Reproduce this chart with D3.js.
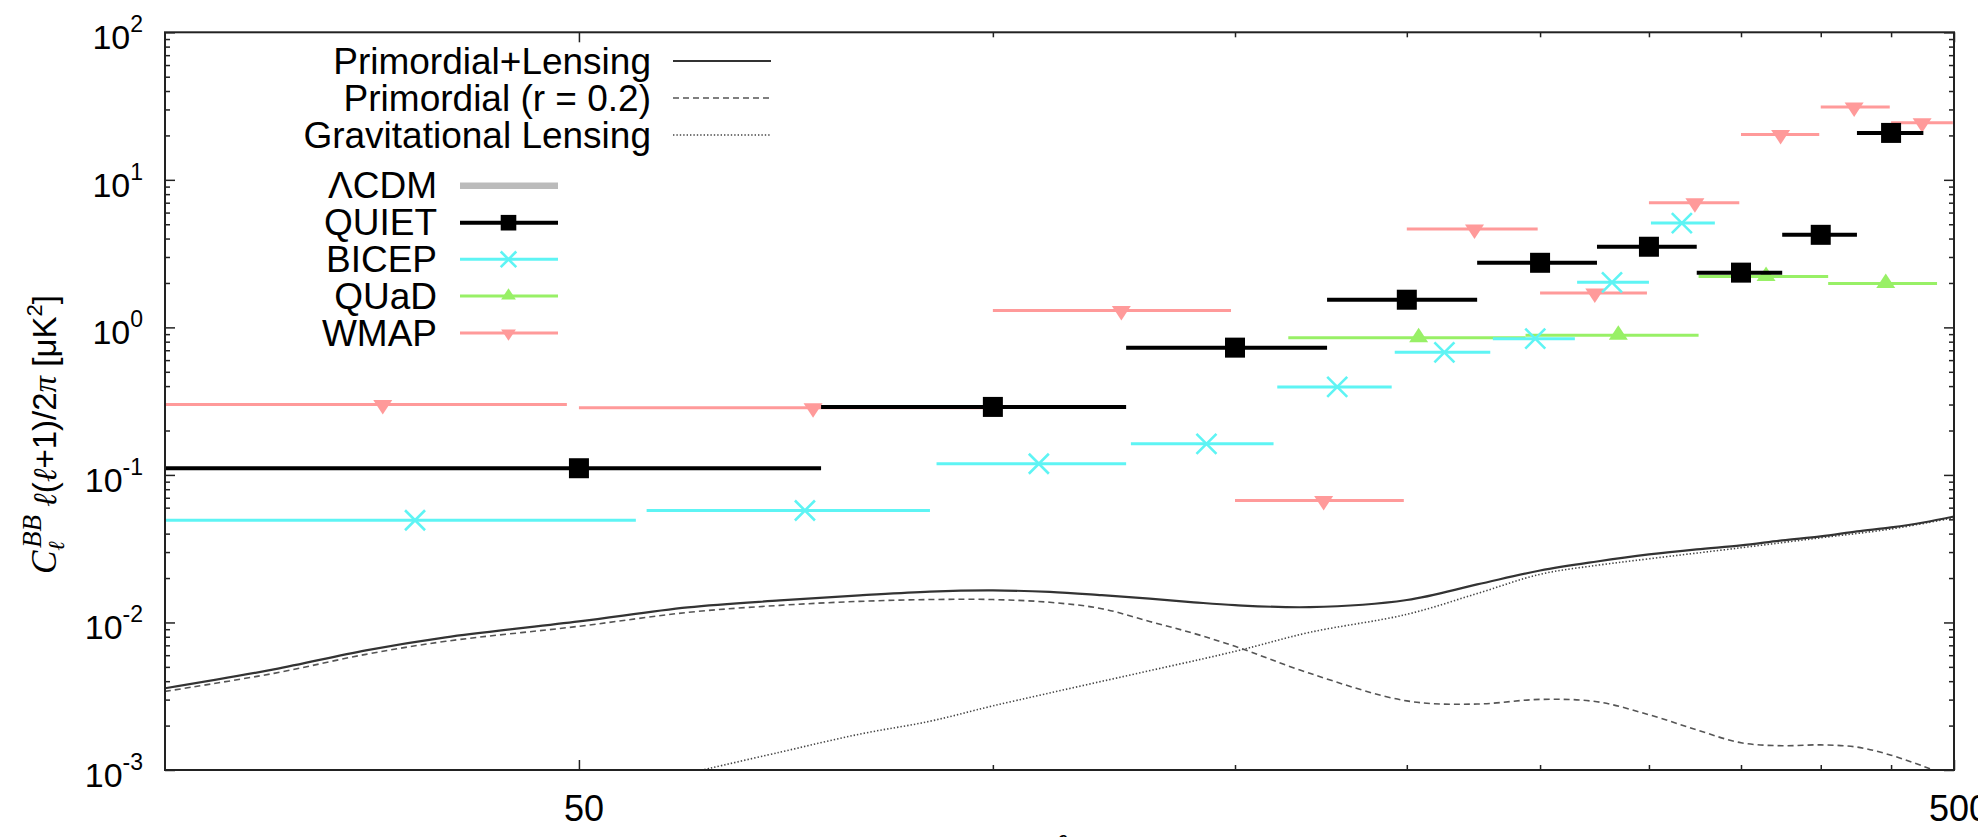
<!DOCTYPE html>
<html><head><meta charset="utf-8">
<script src="https://cdn.jsdelivr.net/npm/d3@7"></script>
<style>
html,body{margin:0;padding:0;background:#fff;overflow:hidden}
text{font-family:"Liberation Sans",Arial,Helvetica,sans-serif;fill:#000}
.serif{font-family:"Liberation Serif","DejaVu Serif",serif;font-style:italic}
</style></head><body>
<svg id="chart" width="1978" height="837"></svg>
<script>
// ---------- data ----------
const xDomain = [25, 500];
const yDomain = [1e-3, 1e2];
const xMajorTicks = [50, 500];
const xTickLabels = ["50", "500"];
const xMinorTicks = [100, 150, 200, 250, 300, 350, 400, 450];
const yMajorTicks = [1e-3, 1e-2, 1e-1, 1, 10, 100];
const yTickExponents = ["-3", "-2", "-1", "0", "1", "2"];
const yMinorMultipliers = [2, 3, 4, 5, 6, 7, 8, 9];

const theoryEll = [25,30,35,40,50,60,70,80,90,100,110,120,130,140,150,170,200,225,250,275,300,325,350,375,400,425,450,475,500];
const primLensVals = [3.58e-3,4.81e-3,6.47e-3,7.93e-3,1.016e-2,1.265e-2,1.41e-2,1.525e-2,1.62e-2,1.65e-2,1.61e-2,1.53e-2,1.45e-2,1.37e-2,1.31e-2,1.27e-2,1.42e-2,1.81e-2,2.25e-2,2.59e-2,2.89e-2,3.13e-2,3.33e-2,3.60e-2,3.83e-2,4.14e-2,4.41e-2,4.76e-2,5.23e-2];
const primordialVals = [3.41e-3,4.52e-3,6.08e-3,7.45e-3,9.42e-3,1.17e-2,1.306e-2,1.39e-2,1.43e-2,1.43e-2,1.37e-2,1.24e-2,1.016e-2,8.43e-3,6.89e-3,4.52e-3,2.94e-3,2.80e-3,3.01e-3,2.90e-3,2.37e-3,1.87e-3,1.53e-3,1.46e-3,1.48e-3,1.43e-3,1.26e-3,1.06e-3,8.9e-4];
const lensEll = [60,70,80,90,100,120,150,170,200,225,250,275,300,350,400,450,500];
const lensVals = [9.5e-4,1.32e-3,1.75e-3,2.14e-3,2.72e-3,3.99e-3,6.37e-3,8.57e-3,1.135e-2,1.57e-2,2.12e-2,2.44e-2,2.70e-2,3.21e-2,3.75e-2,4.30e-2,5.13e-2];

const quietEll = [50,100,150,200,250,300,350,400,450];
const quietVal = [0.111,0.289,0.729,1.54,2.74,3.52,2.35,4.24,20.8];
const quietLo  = [25,75,125,175,225,275,325,375,425];
const quietHi  = [75,125,175,225,275,325,375,425,475];

const bicepEll = [38,73,108,143,178,213,248,282,317];
const bicepVal = [0.0493,0.0574,0.119,0.1625,0.395,0.677,0.839,2.02,5.09];
const bicepLo  = [21,56,91,126,161,196,231,266,301];
const bicepHi  = [55,90,125,160,195,230,265,300,335];

const quadEll = [204,285,365,446];
const quadVal = [0.851,0.883,2.21,1.98];
const quadLo  = [164,244,326,405];
const quadHi  = [244,326,405,486];

const wmapEll = [36,74,124,174,224,274,324,374,423,474];
const wmapVal = [0.300,0.285,1.30,0.0671,4.64,1.71,6.99,20.3,31.2,24.4];
const wmapLo  = [24,50,100,150,200,250,300,350,400,450];
const wmapHi  = [49,99,149,199,249,299,349,399,449,499];

const curveLegend = ["Primordial+Lensing", "Primordial (r = 0.2)", "Gravitational Lensing"];
const dataLegend = ["\u039BCDM", "QUIET", "BICEP", "QUaD", "WMAP"];

// ---------- layout ----------
const P = {left:165, right:1954, top:32.3, bottom:770};
const svg = d3.select("#chart");
const x = d3.scaleLog().domain(xDomain).range([P.left, P.right]);
const y = d3.scaleLog().domain(yDomain).range([P.bottom, P.top]);
const axisColor = "#222";

svg.append("defs").append("clipPath").attr("id","clip")
  .append("rect").attr("x",P.left).attr("y",P.top)
  .attr("width",P.right-P.left).attr("height",P.bottom-P.top);

// ---------- axes ----------
function styleAxis(g){
  g.select(".domain").remove();
  g.selectAll(".tick line").attr("stroke",axisColor).attr("stroke-width",1.5);
}
const gxb = svg.append("g").attr("transform",`translate(0,${P.bottom})`)
  .call(d3.axisBottom(x).tickValues(xMajorTicks).tickSizeInner(-10).tickSizeOuter(0).tickPadding(25)
    .tickFormat((d,i)=>xTickLabels[i]));
styleAxis(gxb);
gxb.selectAll(".tick text").attr("font-size",36).attr("dx",4.5)
  .style("font-family",'"Liberation Sans",Arial,sans-serif').attr("fill","#000");
svg.append("g").attr("transform",`translate(0,${P.bottom})`)
  .call(d3.axisBottom(x).tickValues(xMinorTicks).tickSizeInner(-5).tickSizeOuter(0).tickFormat(""))
  .call(styleAxis);
svg.append("g").attr("transform",`translate(0,${P.top})`)
  .call(d3.axisTop(x).tickValues(xMajorTicks).tickSizeInner(-10).tickSizeOuter(0).tickFormat(""))
  .call(styleAxis);
svg.append("g").attr("transform",`translate(0,${P.top})`)
  .call(d3.axisTop(x).tickValues(xMinorTicks).tickSizeInner(-5).tickSizeOuter(0).tickFormat(""))
  .call(styleAxis);

const yMinorTicks = [];
yMajorTicks.slice(0,-1).forEach(d => yMinorMultipliers.forEach(m => yMinorTicks.push(d*m)));

const gyl = svg.append("g").attr("transform",`translate(${P.left},0)`)
  .call(d3.axisLeft(y).tickValues(yMajorTicks).tickSizeInner(-10).tickSizeOuter(0).tickPadding(22).tickFormat(""));
styleAxis(gyl);
gyl.selectAll(".tick text").each(function(d,i){
  const t = d3.select(this).attr("dy",null).attr("y",16.5).attr("font-size",34)
     .style("font-family",'"Liberation Sans",Arial,sans-serif').attr("fill","#000");
  t.append("tspan").text("10");
  t.append("tspan").attr("dy",-17).attr("font-size",23).text(yTickExponents[i]);
});
svg.append("g").attr("transform",`translate(${P.left},0)`)
  .call(d3.axisLeft(y).tickValues(yMinorTicks).tickSizeInner(-5).tickSizeOuter(0).tickFormat(""))
  .call(styleAxis);
svg.append("g").attr("transform",`translate(${P.right},0)`)
  .call(d3.axisRight(y).tickValues(yMajorTicks).tickSizeInner(-10).tickSizeOuter(0).tickFormat(""))
  .call(styleAxis);
svg.append("g").attr("transform",`translate(${P.right},0)`)
  .call(d3.axisRight(y).tickValues(yMinorTicks).tickSizeInner(-5).tickSizeOuter(0).tickFormat(""))
  .call(styleAxis);

// ---------- theory curves ----------
const line = d3.line().x(d=>x(d[0])).y(d=>y(d[1])).curve(d3.curveCatmullRom.alpha(0.5));
const plotG = svg.append("g").attr("clip-path","url(#clip)");
plotG.append("path").datum(d3.zip(lensEll, lensVals)).attr("d",line)
  .attr("fill","none").attr("stroke","#444").attr("stroke-width",1.6).attr("stroke-dasharray","1.4,2");
plotG.append("path").datum(d3.zip(theoryEll, primordialVals)).attr("d",line)
  .attr("fill","none").attr("stroke","#555").attr("stroke-width",1.6).attr("stroke-dasharray","6,4");
plotG.append("path").datum(d3.zip(theoryEll, primLensVals)).attr("d",line)
  .attr("fill","none").attr("stroke","#333").attr("stroke-width",2.2);

// ---------- data sets ----------
function marker(g, type, cx, cy, s, color){
  if(type==="square"){
    g.append("rect").attr("x",cx-10*s).attr("y",cy-10*s).attr("width",20*s).attr("height",20*s).attr("fill",color);
  } else if(type==="cross"){
    g.append("path").attr("d",`M${cx-10*s},${cy-10*s}L${cx+10*s},${cy+10*s}M${cx-10*s},${cy+10*s}L${cx+10*s},${cy-10*s}`)
      .attr("stroke",color).attr("stroke-width",2.6).attr("fill","none");
  } else if(type==="up"){
    g.append("path").attr("d",`M${cx},${cy-10*s}L${cx+9.5*s},${cy+4.5*s}L${cx-9.5*s},${cy+4.5*s}Z`).attr("fill",color);
  } else if(type==="down"){
    g.append("path").attr("d",`M${cx},${cy+10*s}L${cx+9.5*s},${cy-4.5*s}L${cx-9.5*s},${cy-4.5*s}Z`).attr("fill",color);
  }
}
const series = [
  {name:"WMAP", ell:wmapEll, val:wmapVal, lo:wmapLo, hi:wmapHi, color:"#ff9a9a", lw:3, type:"down"},
  {name:"QUaD", ell:quadEll, val:quadVal, lo:quadLo, hi:quadHi, color:"#98f066", lw:3, type:"up"},
  {name:"BICEP", ell:bicepEll, val:bicepVal, lo:bicepLo, hi:bicepHi, color:"#5ef4f4", lw:3, type:"cross"},
  {name:"QUIET", ell:quietEll, val:quietVal, lo:quietLo, hi:quietHi, color:"#000000", lw:4, type:"square"}
];
series.forEach(s=>{
  const g = plotG.append("g");
  s.ell.forEach((e,i)=>{
    g.append("line").attr("x1",x(s.lo[i])).attr("x2",x(s.hi[i]))
      .attr("y1",y(s.val[i])).attr("y2",y(s.val[i]))
      .attr("stroke",s.color).attr("stroke-width",s.lw);
    marker(g, s.type, x(e), y(s.val[i]), 1, s.color);
  });
});

// ---------- frame ----------
svg.append("rect").attr("x",P.left).attr("y",P.top).attr("width",P.right-P.left).attr("height",P.bottom-P.top)
  .attr("fill","none").attr("stroke",axisColor).attr("stroke-width",2);

// ---------- legends ----------
const leg1 = svg.append("g");
const leg1Rows = [61, 98, 135];
const leg1Styles = [{c:"#333",w:2,d:null},{c:"#555",w:1.6,d:"6,4"},{c:"#444",w:1.6,d:"1.4,2"}];
curveLegend.forEach((t,i)=>{
  leg1.append("text").attr("x",651).attr("y",leg1Rows[i]+12.5).attr("text-anchor","end").attr("font-size",37).text(t);
  leg1.append("line").attr("x1",673).attr("x2",771).attr("y1",leg1Rows[i]).attr("y2",leg1Rows[i])
    .attr("stroke",leg1Styles[i].c).attr("stroke-width",leg1Styles[i].w).attr("stroke-dasharray",leg1Styles[i].d);
});
const leg2 = svg.append("g");
const leg2Rows = [185.7, 222.7, 259.3, 296, 333];
const leg2Styles = [
  {color:"#bbbbbb", lw:6.5, type:null},
  {color:"#000000", lw:4, type:"square"},
  {color:"#5ef4f4", lw:3, type:"cross"},
  {color:"#98f066", lw:3, type:"up"},
  {color:"#ff9a9a", lw:3, type:"down"}
];
dataLegend.forEach((t,i)=>{
  leg2.append("text").attr("x",437).attr("y",leg2Rows[i]+12.5).attr("text-anchor","end").attr("font-size",37).text(t);
  leg2.append("line").attr("x1",460).attr("x2",558).attr("y1",leg2Rows[i]).attr("y2",leg2Rows[i])
    .attr("stroke",leg2Styles[i].color).attr("stroke-width",leg2Styles[i].lw);
  if(leg2Styles[i].type) marker(leg2, leg2Styles[i].type, 508.5, leg2Rows[i], 0.78, leg2Styles[i].color);
});

// ---------- axis titles ----------
const yl = svg.append("text").attr("transform","translate(56,574) rotate(-90)").attr("text-anchor","start");
yl.append("tspan").attr("class","serif").attr("font-size",35).text("C");
yl.append("tspan").attr("class","serif").attr("font-size",23).attr("dy",8).text("\u2113");
yl.append("tspan").attr("class","serif").attr("font-size",27).attr("dy",-23).attr("dx",-7).text("BB");
yl.append("tspan").attr("class","serif").attr("font-size",33).attr("dy",15).attr("dx",8).text("\u2113");
yl.append("tspan").attr("font-size",33).text("(");
yl.append("tspan").attr("class","serif").attr("font-size",33).text("\u2113");
yl.append("tspan").attr("font-size",33).text("+1)/2");
yl.append("tspan").attr("class","serif").attr("font-size",33).text("\u03C0");
yl.append("tspan").attr("font-size",33).text(" [\u03BCK");
yl.append("tspan").attr("font-size",22).attr("dy",-14).text("2");
yl.append("tspan").attr("font-size",33).attr("dy",14).text("]");

svg.append("text").attr("class","serif").attr("x",(P.left+P.right)/2).attr("y",859)
  .attr("text-anchor","middle").attr("font-size",36).text("\u2113");
</script></body></html>
